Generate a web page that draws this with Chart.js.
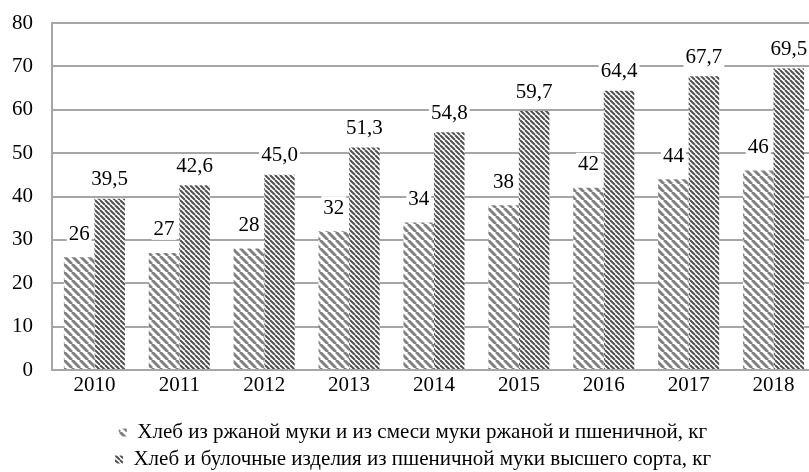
<!DOCTYPE html>
<html>
<head>
<meta charset="utf-8">
<script src="https://cdn.jsdelivr.net/npm/chart.js@4/dist/chart.umd.min.js"></script>
<style>
  html, body { margin: 0; padding: 0; background: #fff; overflow: hidden; }
  #wrap { width: 826px; height: 472px; position: relative; }
</style>
</head>
<body>
<div id="wrap"><canvas id="chart"></canvas></div>
<script>
// Данные
const years = ["2010", "2011", "2012", "2013", "2014", "2015", "2016", "2017", "2018"];
const ryeBread = [26, 27, 28, 32, 34, 38, 42, 44, 46];
const wheatBread = [39.5, 42.6, 45.0, 51.3, 54.8, 59.7, 64.4, 67.7, 69.5];
const ryeLabel = "Хлеб из ржаной муки и из смеси муки ржаной и пшеничной, кг";
const wheatLabel = "Хлеб и булочные изделия из пшеничной муки высшего сорта, кг";
const yTicks = [0, 10, 20, 30, 40, 50, 60, 70, 80];

const serif = '"Liberation Serif", "Times New Roman", serif';

// штриховка "\\\" для столбцов
function makeHatch(size, width, color) {
  const c = document.createElement("canvas");
  c.width = size;
  c.height = size;
  const g = c.getContext("2d");
  g.fillStyle = "#fff";
  g.fillRect(0, 0, size, size);
  g.strokeStyle = color;
  g.lineWidth = width;
  g.beginPath();
  for (let k = -1; k <= 1; k++) {
    g.moveTo(k * size, 0);
    g.lineTo(k * size + size, size);
  }
  g.stroke();
  return g.createPattern(c, "repeat");
}

const ctx = document.getElementById("chart").getContext("2d");
const ryeFill = makeHatch(8, 3, "#808080");
const wheatFill = makeHatch(5, 2, "#505050");

// подписи значений над столбцами (с белым фоном)
const valueLabels = {
  id: "valueLabels",
  afterDatasetsDraw(chart) {
    const c = chart.ctx;
    c.save();
    c.font = "21px " + serif;
    c.textAlign = "center";
    c.textBaseline = "middle";
    chart.data.datasets.forEach((ds, i) => {
      const meta = chart.getDatasetMeta(i);
      meta.data.forEach((bar, j) => {
        const v = ds.data[j];
        const txt = ds.decimals ? v.toFixed(ds.decimals).replace(".", ",") : String(v);
        const w = c.measureText(txt).width;
        const y = bar.y - ds.labelOffset;
        c.fillStyle = "#fff";
        c.fillRect(bar.x - w / 2 - 2, y - 11, w + 4, 22);
        c.fillStyle = "#000";
        c.fillText(txt, bar.x, y + 1);
      });
    });
    c.restore();
  }
};

new Chart(ctx, {
  type: "bar",
  data: {
    labels: years,
    datasets: [
      {
        label: ryeLabel,
        data: ryeBread,
        backgroundColor: ryeFill,
        borderWidth: 0,
        decimals: 0,
        labelOffset: 24
      },
      {
        label: wheatLabel,
        data: wheatBread,
        backgroundColor: wheatFill,
        borderWidth: 0,
        decimals: 1,
        labelOffset: 20
      }
    ]
  },
  options: {
    responsive: true,
    maintainAspectRatio: false,
    animation: false,
    layout: { padding: { top: 23, left: 10, right: 10, bottom: -8 } },
    datasets: { bar: { categoryPercentage: 0.72, barPercentage: 1.0 } },
    scales: {
      x: {
        afterFit: (axis) => { axis.height = 46; },
        grid: { display: false, drawTicks: false },
        border: { display: true, color: "#a6a6a6", width: 2 },
        ticks: { color: "#000", font: { family: serif, size: 21 }, padding: 3 }
      },
      y: {
        min: 0,
        max: 80,
        afterFit: (axis) => {
          axis.width = 42;
          axis.paddingTop = 0;
        },
        afterBuildTicks: (axis) => { axis.ticks = yTicks.map(v => ({ value: v })); },
        grid: { color: "#a6a6a6", lineWidth: 2, drawTicks: false },
        border: { display: true, color: "#a6a6a6", width: 2 },
        ticks: { color: "#000", font: { family: serif, size: 21 }, padding: 19 }
      }
    },
    plugins: {
      tooltip: { enabled: false },
      legend: {
        position: "bottom",
        labels: {
          color: "#000",
          font: { family: serif, size: 21 },
          boxWidth: 8,
          boxHeight: 8,
          padding: 6
        }
      }
    }
  },
  plugins: [valueLabels]
});
</script>
</body>
</html>
